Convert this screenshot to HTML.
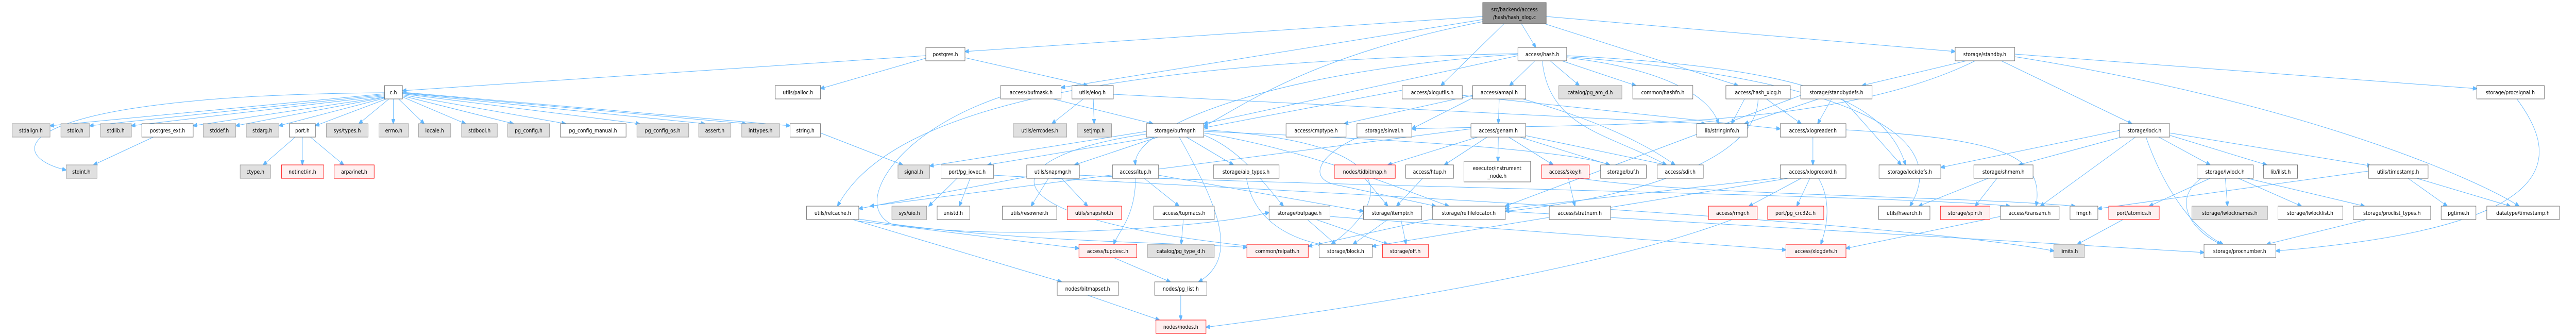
<!DOCTYPE html>
<html><head><meta charset="utf-8"><style>
html,body{margin:0;padding:0;background:#fff;overflow:hidden;width:100vw;height:100vh;}
svg{display:block;position:absolute;left:0;top:0;width:100vw;height:100vh;}
text{font-family:"DejaVu Sans","Liberation Sans",sans-serif;font-size:11px;fill:#000;text-anchor:middle;}
.n rect{fill:#fff;stroke:#666;stroke-width:1;}
.g rect{fill:#e0e0e0;stroke:#999;stroke-width:1;}
.r rect{fill:#fff0f0;stroke:#f00;stroke-width:1;}
.root rect{fill:#999;stroke:#666;stroke-width:1;}
path{fill:none;stroke:#63b8ff;stroke-width:1;}
</style></head><body>
<svg viewBox="0 0 5921 652" preserveAspectRatio="none" xmlns="http://www.w3.org/2000/svg">
<defs><marker id="a" markerWidth="10" markerHeight="8" refX="9" refY="4" orient="auto" markerUnits="userSpaceOnUse"><path d="M0,0 L10,4 L0,8 z" style="fill:#63b8ff;stroke:#63b8ff"/></marker></defs>
<g marker-end="url(#a)">
<path d="M3408 32 L2218 100"/>
<path d="M3497 46 L3530 92"/>
<path d="M3457 46 L3312 166"/>
<path d="M3550 46 L3995 166"/>
<path d="M3554 32 L4494 100"/>
<path d="M3408 38 L2439 170"/>
<path d="M3408 42 C3000 110 2850 210 2767 245"/>
<path d="M2128 108 L925 176"/>
<path d="M2218 112 L2500 166"/>
<path d="M2128 113 L1886 172"/>
<path d="M884 180 C20 185 0 300 152 330"/>
<path d="M884 182 L115 244"/>
<path d="M884 184 L206 244"/>
<path d="M884 186 L302 244"/>
<path d="M884 188 L444 244"/>
<path d="M884 189 L542 244"/>
<path d="M886 190 L641 244"/>
<path d="M888 192 L725 244"/>
<path d="M894 192 L825 240"/>
<path d="M904 192 L904 240"/>
<path d="M916 192 L975 240"/>
<path d="M925 188 L1070 240"/>
<path d="M925 186 L1180 240"/>
<path d="M925 184 L1300 240"/>
<path d="M925 182 L1470 240"/>
<path d="M925 181 L1620 240"/>
<path d="M925 180 L1715 240"/>
<path d="M925 179 L1816 244"/>
<path d="M355 265 L215 320"/>
<path d="M680 265 L605 320"/>
<path d="M695 265 L695 320"/>
<path d="M712 265 L790 320"/>
<path d="M1886 258 L2075 320"/>
<path d="M3528 118 L3470 166"/>
<path d="M3563 118 L3630 166"/>
<path d="M3590 118 L3760 166"/>
<path d="M3601 112 C3800 130 3930 180 3950 240"/>
<path d="M3489 108 L2767 240"/>
<path d="M3545 118 C3560 250 3700 260 3830 320"/>
<path d="M3601 108 C4100 130 4330 180 4380 320"/>
<path d="M3601 110 C4200 150 4500 250 4390 400"/>
<path d="M3489 105 C2900 140 2600 250 2610 320"/>
<path d="M3489 104 C2600 120 2050 200 1925 400"/>
<path d="M2420 192 L2650 240"/>
<path d="M2300 188 C2050 260 1960 400 2050 435 C2300 470 2800 440 2917 412"/>
<path d="M2490 192 L2418 240"/>
<path d="M2513 192 L2515 240"/>
<path d="M2559 183 L3920 240"/>
<path d="M2635 255 L2137 322"/>
<path d="M2660 265 L2270 320"/>
<path d="M2665 265 L2470 320"/>
<path d="M2725 265 L2835 320"/>
<path d="M2710 265 C2800 400 2850 500 2755 547"/>
<path d="M2767 262 C2850 290 2900 350 2950 400"/>
<path d="M2767 258 C3000 290 3200 360 3330 400"/>
<path d="M2767 255 C3200 270 3600 290 3700 320"/>
<path d="M2635 260 C2300 300 2200 420 2900 480"/>
<path d="M2767 252 C3300 280 3150 420 3060 474"/>
<path d="M2200 346 L2135 400"/>
<path d="M2230 346 L2205 400"/>
<path d="M2284 340 C2700 360 4300 420 4721 487"/>
<path d="M2410 346 L2370 400"/>
<path d="M2440 346 L2500 400"/>
<path d="M2360 343 L1974 405"/>
<path d="M2481 340 C3000 360 4400 380 4620 400"/>
<path d="M2610 346 C2610 420 2570 450 2560 474"/>
<path d="M2630 346 L2710 400"/>
<path d="M2663 340 L3134 410"/>
<path d="M2720 426 L2715 474"/>
<path d="M2560 500 L2690 547"/>
<path d="M1974 429 L2480 482"/>
<path d="M1960 426 L2440 547"/>
<path d="M1974 425 C2300 470 2700 470 2866 480"/>
<path d="M2500 573 L2665 621"/>
<path d="M2714 573 L2714 621"/>
<path d="M4000 420 C3700 520 3100 600 2772 635"/>
<path d="M2865 346 C2880 420 2950 460 3040 475"/>
<path d="M3005 426 L3070 474"/>
<path d="M3025 426 L3190 474"/>
<path d="M3057 420 L4105 485"/>
<path d="M3190 426 L3110 474"/>
<path d="M3220 426 L3232 474"/>
<path d="M3293 425 L3007 478"/>
<path d="M3460 410 L5066 490"/>
<path d="M3137 346 L3190 400"/>
<path d="M3270 346 L3210 400"/>
<path d="M3125 265 C3030 300 3000 350 3080 360 L3300 400"/>
<path d="M3400 265 L3190 320"/>
<path d="M3420 265 L3320 320"/>
<path d="M3444 265 L3443 313"/>
<path d="M3466 265 L3570 320"/>
<path d="M3490 265 L3700 320"/>
<path d="M3500 262 L3830 320"/>
<path d="M3381 250 L2000 400"/>
<path d="M3446 192 L3444 240"/>
<path d="M3385 185 L3090 240"/>
<path d="M3500 192 C3700 240 3800 290 3850 320"/>
<path d="M3385 190 L3245 250"/>
<path d="M3605 346 L3620 400"/>
<path d="M3630 346 C3900 380 4500 380 4770 400"/>
<path d="M3361 185 L4092 250"/>
<path d="M3223 175 L2767 248"/>
<path d="M4010 192 L3980 240"/>
<path d="M4060 192 L4140 240"/>
<path d="M4041 192 C4040 300 3800 380 3460 410"/>
<path d="M4210 192 L4178 240"/>
<path d="M4180 192 L4010 240"/>
<path d="M4235 192 L4370 320"/>
<path d="M4139 185 L3460 400"/>
<path d="M4520 118 L4280 166"/>
<path d="M4600 118 L4900 240"/>
<path d="M4540 118 C4200 260 3600 240 3245 250"/>
<path d="M4631 105 L5693 172"/>
<path d="M4631 110 C5300 200 5700 350 5790 400"/>
<path d="M4167 265 L4167 320"/>
<path d="M4243 252 C4600 270 4700 300 4680 400"/>
<path d="M4140 346 L4020 400"/>
<path d="M4160 346 L4130 400"/>
<path d="M4180 346 C4210 390 4200 440 4185 474"/>
<path d="M4092 345 L3460 405"/>
<path d="M4110 346 L3154 478"/>
<path d="M4872 253 L4461 325"/>
<path d="M4880 265 L4640 320"/>
<path d="M4910 265 L4690 400"/>
<path d="M4960 265 L5080 320"/>
<path d="M4985 262 L5210 320"/>
<path d="M4987 258 L5450 322"/>
<path d="M4932 265 C4980 380 5050 450 5110 474"/>
<path d="M4570 346 L4410 400"/>
<path d="M4590 346 L4540 400"/>
<path d="M5080 346 L4940 400"/>
<path d="M5115 346 L5120 400"/>
<path d="M5145 346 L5290 400"/>
<path d="M5165 346 L5435 400"/>
<path d="M5060 346 C5000 380 5020 440 5105 474"/>
<path d="M5535 346 L5625 400"/>
<path d="M5555 346 L5770 400"/>
<path d="M5444 332 L4822 405"/>
<path d="M5440 426 L5210 474"/>
<path d="M5785 192 C5880 300 5915 440 5231 487"/>
<path d="M4880 426 L4775 474"/>
<path d="M4598 420 L4243 482"/>
</g>

<g class="root"><rect x="3408" y="5" width="146" height="41"/><text x="3481" y="22">src/backend/access</text><text x="3481" y="37">/hash/hash_xlog.c</text></g>

<g class="n"><rect x="2128" y="92" width="90" height="26"/><text x="2173" y="109">postgres.h</text></g>
<g class="n"><rect x="3489" y="92" width="112" height="26"/><text x="3545" y="109">access/hash.h</text></g>
<g class="n"><rect x="4494" y="92" width="137" height="26"/><text x="4562" y="109">storage/standby.h</text></g>

<g class="n"><rect x="884" y="166" width="41" height="26"/><text x="904" y="183">c.h</text></g>
<g class="n"><rect x="1782" y="166" width="104" height="26"/><text x="1834" y="183">utils/palloc.h</text></g>
<g class="n"><rect x="2300" y="166" width="139" height="26"/><text x="2370" y="183">access/bufmask.h</text></g>
<g class="n"><rect x="2464" y="166" width="95" height="26"/><text x="2511" y="183">utils/elog.h</text></g>
<g class="n"><rect x="3223" y="166" width="138" height="26"/><text x="3292" y="183">access/xlogutils.h</text></g>
<g class="n"><rect x="3385" y="166" width="122" height="26"/><text x="3446" y="183">access/amapi.h</text></g>
<g class="g"><rect x="3583" y="166" width="145" height="26"/><text x="3655" y="183">catalog/pg_am_d.h</text></g>
<g class="n"><rect x="3753" y="166" width="138" height="26"/><text x="3822" y="183">common/hashfn.h</text></g>
<g class="n"><rect x="3967" y="166" width="148" height="26"/><text x="4041" y="183">access/hash_xlog.h</text></g>
<g class="n"><rect x="4139" y="166" width="164" height="26"/><text x="4221" y="183">storage/standbydefs.h</text></g>
<g class="n"><rect x="5693" y="166" width="155" height="26"/><text x="5770" y="183">storage/procsignal.h</text></g>

<g class="g"><rect x="28" y="240" width="87" height="26"/><text x="71" y="257">stdalign.h</text></g>
<g class="g"><rect x="140" y="240" width="66" height="26"/><text x="173" y="257">stdio.h</text></g>
<g class="g"><rect x="231" y="240" width="71" height="26"/><text x="266" y="257">stdlib.h</text></g>
<g class="n"><rect x="326" y="240" width="118" height="26"/><text x="385" y="257">postgres_ext.h</text></g>
<g class="g"><rect x="467" y="240" width="75" height="26"/><text x="504" y="257">stddef.h</text></g>
<g class="g"><rect x="566" y="240" width="75" height="26"/><text x="603" y="257">stdarg.h</text></g>
<g class="n"><rect x="665" y="240" width="60" height="26"/><text x="695" y="257">port.h</text></g>
<g class="g"><rect x="750" y="240" width="96" height="26"/><text x="798" y="257">sys/types.h</text></g>
<g class="g"><rect x="871" y="240" width="68" height="26"/><text x="905" y="257">errno.h</text></g>
<g class="g"><rect x="962" y="240" width="74" height="26"/><text x="999" y="257">locale.h</text></g>
<g class="g"><rect x="1061" y="240" width="82" height="26"/><text x="1102" y="257">stdbool.h</text></g>
<g class="g"><rect x="1167" y="240" width="96" height="26"/><text x="1215" y="257">pg_config.h</text></g>
<g class="n"><rect x="1288" y="240" width="151" height="26"/><text x="1363" y="257">pg_config_manual.h</text></g>
<g class="g"><rect x="1464" y="240" width="119" height="26"/><text x="1523" y="257">pg_config_os.h</text></g>
<g class="g"><rect x="1606" y="240" width="74" height="26"/><text x="1643" y="257">assert.h</text></g>
<g class="g"><rect x="1705" y="240" width="87" height="26"/><text x="1748" y="257">inttypes.h</text></g>
<g class="n"><rect x="1816" y="240" width="70" height="26"/><text x="1851" y="257">string.h</text></g>
<g class="g"><rect x="2329" y="240" width="123" height="26"/><text x="2390" y="257">utils/errcodes.h</text></g>
<g class="g"><rect x="2476" y="240" width="79" height="26"/><text x="2515" y="257">setjmp.h</text></g>
<g class="n"><rect x="2635" y="240" width="132" height="26"/><text x="2701" y="257">storage/bufmgr.h</text></g>
<g class="n"><rect x="2956" y="240" width="138" height="26"/><text x="3025" y="257">access/cmptype.h</text></g>
<g class="n"><rect x="3119" y="240" width="126" height="26"/><text x="3182" y="257">storage/sinval.h</text></g>
<g class="n"><rect x="3381" y="240" width="126" height="26"/><text x="3444" y="257">access/genam.h</text></g>
<g class="n"><rect x="3900" y="240" width="116" height="26"/><text x="3958" y="257">lib/stringinfo.h</text></g>
<g class="n"><rect x="4092" y="240" width="151" height="26"/><text x="4167" y="257">access/xlogreader.h</text></g>
<g class="n"><rect x="4872" y="240" width="115" height="26"/><text x="4929" y="257">storage/lock.h</text></g>

<g class="g"><rect x="152" y="320" width="71" height="26"/><text x="187" y="337">stdint.h</text></g>
<g class="g"><rect x="552" y="320" width="70" height="26"/><text x="587" y="337">ctype.h</text></g>
<g class="r"><rect x="647" y="320" width="97" height="26"/><text x="695" y="337">netinet/in.h</text></g>
<g class="r"><rect x="768" y="320" width="92" height="26"/><text x="814" y="337">arpa/inet.h</text></g>
<g class="g"><rect x="2064" y="320" width="73" height="26"/><text x="2100" y="337">signal.h</text></g>
<g class="n"><rect x="2163" y="320" width="121" height="26"/><text x="2223" y="337">port/pg_iovec.h</text></g>
<g class="n"><rect x="2360" y="320" width="121" height="26"/><text x="2420" y="337">utils/snapmgr.h</text></g>
<g class="n"><rect x="2557" y="320" width="106" height="26"/><text x="2610" y="337">access/itup.h</text></g>
<g class="n"><rect x="2789" y="320" width="151" height="26"/><text x="2864" y="337">storage/aio_types.h</text></g>
<g class="r"><rect x="3067" y="320" width="140" height="26"/><text x="3137" y="337">nodes/tidbitmap.h</text></g>
<g class="n"><rect x="3231" y="320" width="110" height="26"/><text x="3286" y="337">access/htup.h</text></g>
<g class="n"><rect x="3365" y="313" width="153" height="40"/><text x="3441" y="330">executor/instrument</text><text x="3441" y="345">_node.h</text></g>
<g class="r"><rect x="3543" y="320" width="110" height="26"/><text x="3598" y="337">access/skey.h</text></g>
<g class="n"><rect x="3679" y="320" width="105" height="26"/><text x="3731" y="337">storage/buf.h</text></g>
<g class="n"><rect x="3809" y="320" width="106" height="26"/><text x="3862" y="337">access/sdir.h</text></g>
<g class="n"><rect x="4092" y="320" width="151" height="26"/><text x="4167" y="337">access/xlogrecord.h</text></g>
<g class="n"><rect x="4319" y="320" width="142" height="26"/><text x="4390" y="337">storage/lockdefs.h</text></g>
<g class="n"><rect x="4537" y="320" width="136" height="26"/><text x="4605" y="337">storage/shmem.h</text></g>
<g class="n"><rect x="5050" y="320" width="129" height="26"/><text x="5114" y="337">storage/lwlock.h</text></g>
<g class="n"><rect x="5203" y="320" width="78" height="26"/><text x="5242" y="337">lib/ilist.h</text></g>
<g class="n"><rect x="5444" y="320" width="137" height="26"/><text x="5512" y="337">utils/timestamp.h</text></g>

<g class="n"><rect x="1854" y="400" width="120" height="26"/><text x="1914" y="417">utils/relcache.h</text></g>
<g class="g"><rect x="2050" y="400" width="80" height="26"/><text x="2090" y="417">sys/uio.h</text></g>
<g class="n"><rect x="2154" y="400" width="75" height="26"/><text x="2191" y="417">unistd.h</text></g>
<g class="n"><rect x="2304" y="400" width="125" height="26"/><text x="2366" y="417">utils/resowner.h</text></g>
<g class="r"><rect x="2453" y="400" width="125" height="26"/><text x="2515" y="417">utils/snapshot.h</text></g>
<g class="n"><rect x="2652" y="400" width="139" height="26"/><text x="2721" y="417">access/tupmacs.h</text></g>
<g class="n"><rect x="2917" y="400" width="140" height="26"/><text x="2987" y="417">storage/bufpage.h</text></g>
<g class="n"><rect x="3134" y="400" width="134" height="26"/><text x="3201" y="417">storage/itemptr.h</text></g>
<g class="n"><rect x="3293" y="400" width="167" height="26"/><text x="3376" y="417">storage/relfilelocator.h</text></g>
<g class="n"><rect x="3561" y="400" width="141" height="26"/><text x="3631" y="417">access/stratnum.h</text></g>
<g class="r"><rect x="3927" y="400" width="112" height="26"/><text x="3983" y="417">access/rmgr.h</text></g>
<g class="r"><rect x="4063" y="400" width="129" height="26"/><text x="4127" y="417">port/pg_crc32c.h</text></g>
<g class="n"><rect x="4318" y="400" width="118" height="26"/><text x="4377" y="417">utils/hsearch.h</text></g>
<g class="r"><rect x="4460" y="400" width="114" height="26"/><text x="4517" y="417">storage/spin.h</text></g>
<g class="n"><rect x="4598" y="400" width="135" height="26"/><text x="4665" y="417">access/transam.h</text></g>
<g class="n"><rect x="4758" y="400" width="64" height="26"/><text x="4790" y="417">fmgr.h</text></g>
<g class="r"><rect x="4847" y="400" width="116" height="26"/><text x="4905" y="417">port/atomics.h</text></g>
<g class="g"><rect x="5038" y="400" width="174" height="26"/><text x="5125" y="417">storage/lwlocknames.h</text></g>
<g class="n"><rect x="5236" y="400" width="149" height="26"/><text x="5310" y="417">storage/lwlocklist.h</text></g>
<g class="n"><rect x="5409" y="400" width="178" height="26"/><text x="5498" y="417">storage/proclist_types.h</text></g>
<g class="n"><rect x="5611" y="400" width="80" height="26"/><text x="5651" y="417">pgtime.h</text></g>
<g class="n"><rect x="5716" y="400" width="167" height="26"/><text x="5799" y="417">datatype/timestamp.h</text></g>

<g class="r"><rect x="2480" y="474" width="133" height="26"/><text x="2546" y="491">access/tupdesc.h</text></g>
<g class="g"><rect x="2638" y="474" width="153" height="26"/><text x="2714" y="491">catalog/pg_type_d.h</text></g>
<g class="r"><rect x="2866" y="474" width="141" height="26"/><text x="2936" y="491">common/relpath.h</text></g>
<g class="n"><rect x="3032" y="474" width="122" height="26"/><text x="3093" y="491">storage/block.h</text></g>
<g class="r"><rect x="3178" y="474" width="105" height="26"/><text x="3230" y="491">storage/off.h</text></g>
<g class="r"><rect x="4105" y="474" width="138" height="26"/><text x="4174" y="491">access/xlogdefs.h</text></g>
<g class="g"><rect x="4721" y="474" width="70" height="26"/><text x="4756" y="491">limits.h</text></g>
<g class="n"><rect x="5066" y="474" width="165" height="26"/><text x="5148" y="491">storage/procnumber.h</text></g>

<g class="n"><rect x="2430" y="547" width="141" height="26"/><text x="2500" y="564">nodes/bitmapset.h</text></g>
<g class="n"><rect x="2654" y="547" width="120" height="26"/><text x="2714" y="564">nodes/pg_list.h</text></g>
<g class="r"><rect x="2657" y="621" width="115" height="26"/><text x="2714" y="638">nodes/nodes.h</text></g>
</svg>
</body></html>
